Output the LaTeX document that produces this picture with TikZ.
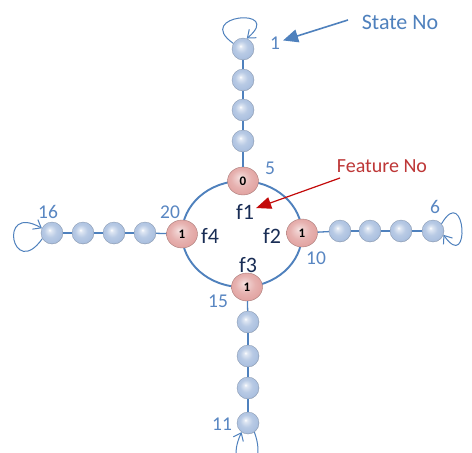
\documentclass[tikz,border=0pt]{standalone}
\usepackage{fontspec}
\setmainfont{Carlito}
\usetikzlibrary{arrows.meta,shapes.geometric}
\definecolor{lineblue}{RGB}{79,129,189}
\definecolor{numblue}{RGB}{88,134,194}
\definecolor{fnavy}{RGB}{25,45,85}
\definecolor{featred}{RGB}{190,55,55}
\definecolor{arrred}{RGB}{195,10,10}
\definecolor{bb}{RGB}{172,193,224}
\definecolor{pk}{RGB}{226,164,162}
\pgfdeclareradialshading{blueballsh}{\pgfpoint{-6bp}{7bp}}{color(0bp)=(white); color(4bp)=(bb!40!white); color(14bp)=(bb!85!white); color(24bp)=(bb); color(32bp)=(bb!78!black); color(40bp)=(bb!78!black)}
\pgfdeclareradialshading{pinkballsh}{\pgfpoint{-5bp}{7bp}}{color(0bp)=(pk!30!white); color(6bp)=(pk!55!white); color(16bp)=(pk!85!white); color(26bp)=(pk); color(34bp)=(pk!80!black); color(40bp)=(pk!80!black)}
\begin{document}
\begin{tikzpicture}[x=1pt,y=1pt,
  blueball/.style={circle, minimum size=22pt, inner sep=0pt, shading=blueballsh, draw=bb!75!black, line width=0.3pt},
  pinkball/.style={ellipse, minimum width=31pt, minimum height=28pt, inner sep=0pt, shading=pinkballsh, draw=pk!75!black, line width=0.4pt, font=\bfseries\fontsize{13}{13}\selectfont},
  chain/.style={draw=lineblue, line width=1.3pt},
  ringst/.style={draw=lineblue, line width=1.9pt},
  selfloop/.style={draw=lineblue, line width=1pt, -{Straight Barb[length=7pt,width=11pt]}},
  numlab/.style={text=numblue, font=\fontsize{19.5}{19.5}\selectfont, inner sep=2pt},
  flab/.style={text=fnavy, font=\fontsize{22}{22}\selectfont, inner sep=2pt},
  bluearrow/.style={draw=lineblue, line width=1.6pt, -{Triangle[length=15pt,width=13pt]}},
  redarrow/.style={draw=arrred, line width=1.2pt, -{Triangle[length=15pt,width=12pt]}}
]
\path[use as bounding box, clip] (0,0) rectangle (472,-453);
\fill[white] (0,0) rectangle (472,-453);

% ring
\coordinate (rc) at (242,-234);
\draw[ringst] (rc) ellipse [x radius=60, y radius=53];

% feature nodes
\node[pinkball] (p1) at (243,-181) {0};
\node[pinkball] (p2) at (302,-233) {1};
\node[pinkball] (p3) at (247,-287) {1};
\node[pinkball] (p4) at (182,-234) {1};

% top chain
\node[blueball] (t1) at (243,-49) {};
\node[blueball] (t2) at (243,-80) {};
\node[blueball] (t3) at (243,-110) {};
\node[blueball] (t4) at (243,-141) {};
% right chain
\node[blueball] (r1) at (340,-231) {};
\node[blueball] (r2) at (370,-231) {};
\node[blueball] (r3) at (401,-231) {};
\node[blueball] (r4) at (433,-231) {};
% left chain
\node[blueball] (l1) at (52,-233) {};
\node[blueball] (l2) at (83,-233) {};
\node[blueball] (l3) at (114,-233) {};
\node[blueball] (l4) at (145,-233) {};
% bottom chain
\node[blueball] (b1) at (248,-322) {};
\node[blueball] (b2) at (248,-356) {};
\node[blueball] (b3) at (248,-388) {};
\node[blueball] (b4) at (248,-423) {};

% chain connectors
\draw[chain] (t1) -- (t2);
\draw[chain] (t2) -- (t3);
\draw[chain] (t3) -- (t4);
\draw[chain] (t4) -- (p1);
\draw[chain] (p2) -- (r1);
\draw[chain] (r1) -- (r2);
\draw[chain] (r2) -- (r3);
\draw[chain] (r3) -- (r4);
\draw[chain] (l1) -- (l2);
\draw[chain] (l2) -- (l3);
\draw[chain] (l3) -- (l4);
\draw[chain] (l4) -- (p4);
\draw[chain] (p3) -- (b1);
\draw[chain] (b1) -- (b2);
\draw[chain] (b2) -- (b3);
\draw[chain] (b3) -- (b4);

% self loops
\draw[selfloop] (t1.150) .. controls +(145:50) and +(40:50) .. (t1.70);
\draw[selfloop] (r4.40) .. controls +(60:48) and +(-55:48) .. (r4.-20);
\draw[selfloop] (l1.-150) .. controls +(-125:52) and +(150:52) .. (l1.155);
\draw[selfloop] (b4.-55) .. controls +(-70:50) and +(-115:50) .. (b4.-125);

% state numbers
\node[numlab] (n1) at (275,-43) {1};
\node[numlab] (n5) at (270,-168) {5};
\node[numlab] (n6) at (435,-207) {6};
\node[numlab] (n10) at (316,-258) {10};
\node[numlab] (n16) at (48,-212) {16};
\node[numlab] (n20) at (170,-212) {20};
\node[numlab] (n15) at (218,-301) {15};
\node[numlab] (n11) at (222,-424) {11};

% feature labels
\node[flab] (f1) at (245,-212) {f1};
\node[flab] (f2) at (272,-236) {f2};
\node[flab] (f3) at (248,-265) {f3};
\node[flab] (f4) at (210,-236) {f4};

% callouts
\node[text=lineblue, font=\fontsize{22}{22}\selectfont] (sn) at (400,-22) {State No};
\coordinate (sa) at (348,-20);
\draw[bluearrow, shorten >=1pt] (sa) -- (n1);
\node[text=featred, font=\fontsize{20}{20}\selectfont] (fn) at (382,-166) {Feature No};
\coordinate (fa) at (340,-178);
\draw[redarrow] (fa) -- (f1);
\end{tikzpicture}
\end{document}
